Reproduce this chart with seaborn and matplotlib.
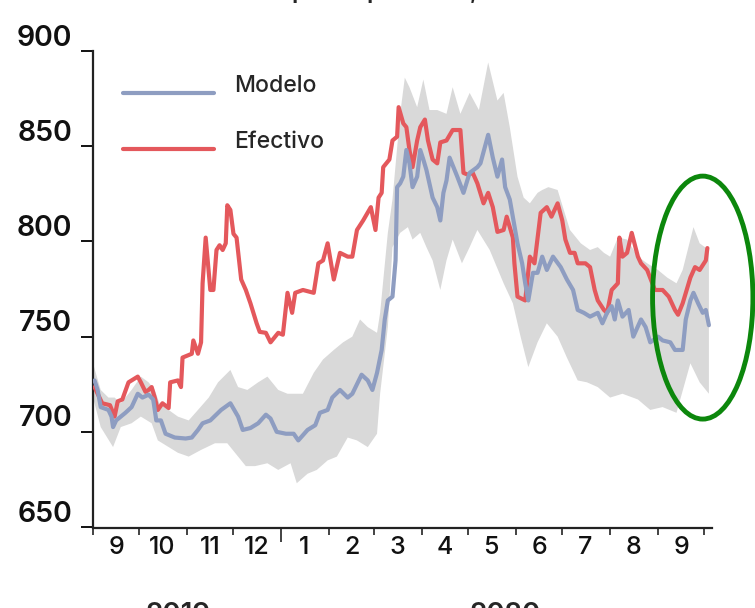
import numpy as np
import pandas as pd
import matplotlib
matplotlib.use("Agg")
import matplotlib.pyplot as plt
import matplotlib.dates as mdates
import matplotlib.transforms as mtrans
from matplotlib.patches import Ellipse
from matplotlib.lines import Line2D
from matplotlib.legend_handler import HandlerLine2D
import seaborn as sns

# ---------------- data (days since 2019-09-01, values) ----------------
start_date = "2019-09-01"

efectivo_days = [1, 3, 6, 11, 14, 16, 19, 23, 29, 31, 34, 36, 38, 40, 42, 45, 49, 50, 55, 57, 58, 64, 65, 68, 70,
                 71, 73, 76, 78, 80, 82, 84, 86, 87, 89, 91, 93, 96, 99, 102, 106, 108, 112, 115, 120, 123, 126,
                 129, 131, 136, 143, 146, 149, 152, 156, 160, 165, 168, 171, 175, 180, 183, 185, 187, 188, 192,
                 194, 197, 198, 201, 203, 205, 207, 210, 212, 215, 217, 220, 223, 225, 229, 233, 238, 240, 243,
                 246, 249, 253, 256, 259, 262, 266, 268, 272, 273, 275, 280, 283, 286, 290, 294, 297, 301, 304,
                 306, 309, 312, 314, 319, 322, 325, 327, 331, 333, 336, 340, 341, 343, 346, 349, 353, 355, 359,
                 364, 369, 373, 377, 379, 382, 387, 390, 393, 397, 398]
efectivo_vals = [723.5, 720, 715, 714, 708, 716, 717, 726, 729, 726, 721, 722, 723.5, 718, 711.5, 715, 712.5, 726,
                 727, 723.5, 739, 741, 748, 741, 747, 778, 802, 774.5, 774.5, 795.5, 798, 795.5, 799, 819, 816.5,
                 804, 802, 780, 774.5, 767.5, 757, 752.5, 752, 747, 752, 751, 773, 762.5, 773, 774.5, 773, 788.5,
                 790, 799, 780, 794, 792, 792, 806, 811, 818, 806, 823, 825.5, 839, 843, 853, 855, 870.5, 862, 860,
                 848, 839, 853, 860, 864, 853, 843, 841, 852, 853, 858.5, 858.5, 836, 835, 836, 830.5, 820, 825.5,
                 818, 805, 806, 813, 802, 788.5, 771, 769, 792, 788.5, 815, 818, 813, 820, 811, 801, 794, 794,
                 788.5, 788.5, 786.5, 774.5, 769, 764, 762.5, 774.5, 778, 802, 792, 794, 804.5, 792, 788.5, 785,
                 774.5, 774.5, 771, 764, 761.5, 767.5, 781, 786.5, 785, 790, 796.5]

modelo_days = [1, 3, 5, 10, 12, 13, 15, 21, 25, 29, 32, 36, 39, 41, 44, 47, 53, 60, 64, 68, 71, 76, 83, 89, 94, 97,
               102, 107, 112, 115, 119, 125, 130, 133, 139, 144, 147, 152, 155, 160, 165, 168, 174, 178, 181, 184,
               187, 189, 191, 194, 196, 197, 199, 201, 203, 205, 207, 210, 212, 214, 216, 220, 223, 225, 227, 229,
               231, 236, 240, 244, 249, 251, 256, 259, 262, 265, 267, 270, 275, 278, 280, 282, 285, 288, 291, 294,
               298, 303, 307, 311, 314, 318, 322, 327, 330, 333, 336, 338, 340, 343, 347, 350, 355, 358, 361, 366,
               369, 374, 377, 382, 384, 387, 389, 392, 395, 397, 399]
modelo_vals = [727, 722, 713, 711.5, 708, 702.5, 706, 710, 713, 720, 718, 719.5, 717, 706, 706, 699, 697, 696.5,
               697, 701, 704.5, 706, 711.5, 715, 708, 701, 702, 704.5, 709, 707, 700, 699, 699, 695.5, 701, 703.5,
               710, 711.5, 718, 722, 718, 720, 730, 727, 722, 731, 743, 759, 769, 771, 790, 828.5, 830.5, 834, 848,
               841, 828.5, 834, 848, 843, 837.5, 823, 818, 811, 825.5, 832, 844, 834, 825.5, 836, 839, 841, 856,
               844, 834, 843, 828.5, 822, 799, 788.5, 778, 769, 783.5, 783.5, 792, 785, 792, 786.5, 780, 774.5,
               764, 762.5, 760.5, 762.5, 757, 762.5, 766, 759, 769, 760.5, 764, 750, 759, 755, 747, 750, 748, 747,
               743, 743, 759, 769, 773, 767.5, 762.5, 764, 756]

banda_sup_days = [0, 5, 10, 14, 18, 25, 31, 36, 40, 43, 49, 55, 62, 68, 75, 81, 89, 94, 100, 107, 113, 120, 126,
                  130, 136, 143, 149, 156, 162, 168, 173, 178, 184, 186, 191, 194, 199, 202, 205, 210, 214, 218,
                  223, 229, 233, 238, 244, 250, 256, 262, 266, 270, 275, 279, 283, 288, 291, 295, 301, 305, 309,
                  316, 322, 327, 331, 335, 340, 346, 353, 359, 366, 372, 378, 382, 389, 393, 399]
banda_sup_vals = [736, 722, 718, 718, 715, 722, 729, 726, 722, 715, 711.5, 708, 706, 711.5, 718, 726, 732.5, 723.5,
                  722, 726, 729, 722, 720, 720, 720, 731, 738, 743, 747, 750, 759, 755, 752, 762.5, 804.5, 822, 867,
                  886, 881, 870.5, 885, 869, 869, 867, 881, 867, 878, 869, 894, 874, 878, 860, 834, 823, 820, 825.5,
                  827, 828.5, 827, 816.5, 806, 799, 795.5, 797, 794, 792, 802, 801, 792, 788.5, 785, 781, 778, 785,
                  807.5, 799, 795.5]

banda_inf_days = [0, 5, 13, 18, 25, 31, 38, 42, 49, 55, 62, 70, 79, 87, 94, 99, 105, 113, 120, 128, 132, 139, 145,
                  152, 158, 165, 171, 178, 184, 186, 191, 194, 199, 204, 207, 212, 216, 220, 225, 229, 233, 239,
                  244, 249, 257, 266, 272, 277, 282, 288, 294, 301, 307, 314, 320, 327, 335, 343, 353, 361, 369,
                  378, 387, 393, 399]
banda_inf_vals = [718, 702.5, 692, 702.5, 704.5, 708, 704.5, 695.5, 692, 689, 687, 690.5, 694, 694, 687, 682, 682,
                  683.5, 680, 683.5, 673, 678, 680, 685, 687, 697, 695.5, 692, 699, 720, 755, 797, 804.5, 807.5,
                  801, 804.5, 797, 790, 774.5, 790, 801, 788.5, 797, 806, 795.5, 778, 767.5, 750, 734, 747, 757,
                  750, 739, 727, 726, 723.5, 718, 720, 717, 711.5, 713, 710, 736, 726, 720]

series_names = ["Modelo", "Efectivo"]
series_colors = ["#8e9dc1", "#e4585c"]
band_color = "#d9d9d9"
month_labels = ["9", "10", "11", "12", "1", "2", "3", "4", "5", "6", "7", "8", "9"]
year_labels = ["2019", "2020"]
y_ticks = [650, 700, 750, 800, 850, 900]
title_text = "pesos por dólar, nivel"

# ---------------- build frames ----------------
t0 = pd.Timestamp(start_date)
def to_dates(days):
    return t0 + pd.to_timedelta(np.array(days), unit="D")

df = pd.concat([
    pd.DataFrame({"fecha": to_dates(modelo_days), "valor": modelo_vals, "serie": "Modelo"}),
    pd.DataFrame({"fecha": to_dates(efectivo_days), "valor": efectivo_vals, "serie": "Efectivo"}),
], ignore_index=True)

# ---------------- style ----------------
sns.set_theme(style="ticks")
plt.rcParams["font.family"] = ["Inter", "DejaVu Sans"]
plt.rcParams["axes.linewidth"] = 1.6
plt.rcParams["axes.edgecolor"] = "#222222"

fig = plt.figure(figsize=(7.55, 6.08), dpi=100)
ax = fig.add_axes([93 / 755, 1 - 528 / 608, (712 - 93) / 755, (528 - 51) / 608])

# band
xu = mdates.date2num(to_dates(banda_sup_days))
xl = mdates.date2num(to_dates(banda_inf_days))
ax.fill(np.concatenate([xu, xl[::-1]]),
        np.concatenate([banda_sup_vals, banda_inf_vals[::-1]]),
        color=band_color, linewidth=0, zorder=1)

palette = dict(zip(series_names, series_colors))
sns.lineplot(data=df, x="fecha", y="valor", hue="serie", hue_order=["Efectivo", "Modelo"],
             palette=palette, estimator=None, sort=False, linewidth=3.0, ax=ax, legend=False, zorder=3)

# axes limits
ax.set_xlim(mdates.date2num(t0), mdates.date2num(t0 + pd.Timedelta(days=401)))
ax.set_ylim(649.5, 900)
ax.spines["top"].set_visible(False)
ax.spines["right"].set_visible(False)
ax.spines["left"].set_bounds(650, 900)
ax.set_xlabel("")
ax.set_ylabel("")

# y ticks
ax.set_yticks(y_ticks)
ax.set_yticklabels([str(v) for v in y_ticks])
ax.tick_params(axis="y", direction="out", length=9, width=1.4, pad=6, labelsize=20.5, colors="#111111")
offset = mtrans.ScaledTranslation(0, 16 / 100, fig.dpi_scale_trans)
for lab in ax.get_yticklabels():
    lab.set_transform(lab.get_transform() + offset)
    lab.set_fontweight("semibold")

# x ticks: month boundaries (major, unlabeled) and mid-month labels (minor)
ax.xaxis.set_major_locator(mdates.MonthLocator())
ax.xaxis.set_major_formatter(matplotlib.ticker.NullFormatter())
ax.xaxis.set_minor_locator(mdates.MonthLocator(bymonthday=16))
ax.xaxis.set_minor_formatter(matplotlib.ticker.FixedFormatter(month_labels))
ax.tick_params(axis="x", which="major", direction="out", length=5, width=1.2, colors="#222222")
ax.tick_params(axis="x", which="minor", length=0, pad=6, labelsize=18, labelcolor="#111111")
for lab in ax.get_xticklabels(minor=True):
    lab.set_fontweight("medium")
jan = mdates.date2num(pd.Timestamp("2020-01-01"))
for tk in ax.xaxis.get_major_ticks():
    if abs(tk.get_loc() - jan) < 0.5:
        tk.tick1line.set_markersize(10)


# legend, with the handle lines sitting a little below the text centre
class LoweredLine(HandlerLine2D):
    def create_artists(self, legend, orig_handle, xdescent, ydescent, width, height, fontsize, trans):
        arts = super().create_artists(legend, orig_handle, xdescent, ydescent, width, height, fontsize, trans)
        for a in arts:
            if isinstance(a, Line2D):
                a.set_ydata(np.asarray(a.get_ydata(), dtype=float) - 0.4 * fontsize)
        return arts


handles = [Line2D([0], [0], color=palette[n], lw=3.0) for n in series_names]
leg = ax.legend(handles, series_names, loc="upper left", bbox_to_anchor=(0.048, 0.950),
                frameon=False, handlelength=4.0, handletextpad=0.87, labelspacing=1.5,
                borderaxespad=0, borderpad=0, prop={"size": 16.5, "weight": "medium"},
                handler_map={Line2D: LoweredLine()})

# highlight ellipse (annotation)
ell = Ellipse((mdates.date2num(t0 + pd.Timedelta(days=395)), 770.5), width=65, height=127.6,
              fill=False, edgecolor="#0c870c", linewidth=3.5, clip_on=False, zorder=5)
ax.add_patch(ell)

# year labels and clipped title
fig.text(178 / 755, 1 - 602 / 608, year_labels[0], ha="center", va="top", fontsize=20, fontweight="semibold")
fig.text(505 / 755, 1 - 602 / 608, year_labels[1], ha="center", va="top", fontsize=20, fontweight="semibold")
fig.text(415 / 755, 1 + 2 / 608, title_text, ha="center", va="baseline", fontsize=17, fontweight="semibold")

fig.savefig("out.png", dpi=100)
